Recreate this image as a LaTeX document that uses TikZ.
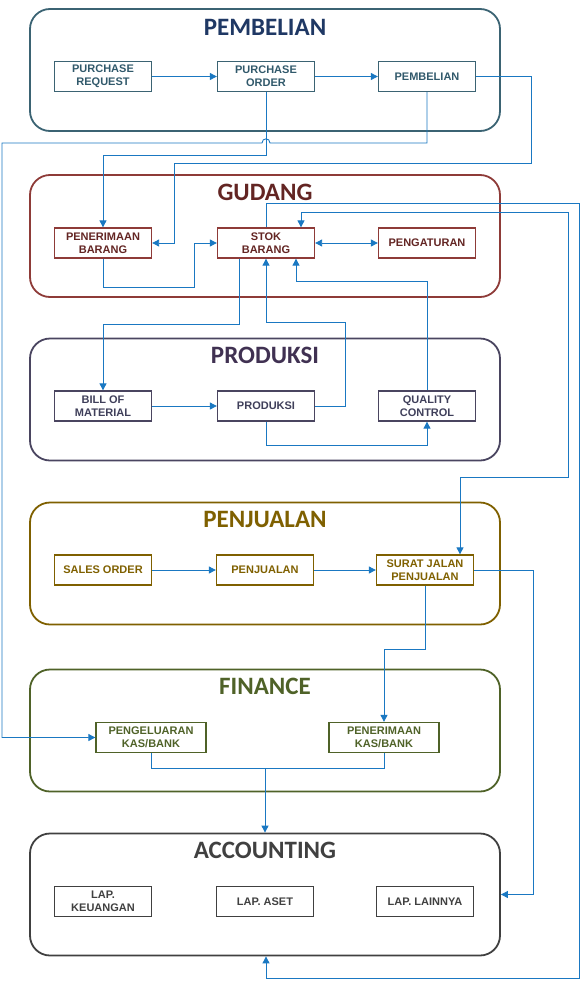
\documentclass[tikz,border=0pt]{standalone}
\usepackage{fontspec}
\setmainfont{Liberation Sans}
\newfontfamily\titlefont{Carlito}
\usetikzlibrary{arrows.meta}
\definecolor{cLine}{HTML}{1A78C2}
\definecolor{pembT}{HTML}{1F3864}
\definecolor{pembB}{HTML}{3B6373}
\definecolor{pembX}{HTML}{31596B}
\definecolor{gudT}{HTML}{632523}
\definecolor{gudB}{HTML}{8E3B38}
\definecolor{gudX}{HTML}{632523}
\definecolor{proT}{HTML}{403152}
\definecolor{proB}{HTML}{4A4560}
\definecolor{proX}{HTML}{3F3F5A}
\definecolor{penT}{HTML}{7F6000}
\definecolor{finT}{HTML}{4F6228}
\definecolor{accT}{HTML}{404040}
\begin{document}
\begin{tikzpicture}[x=1pt,y=-1pt,
  group/.style={draw, rounded corners=20pt, line width=1.8pt, minimum width=470pt, minimum height=122pt, inner sep=0pt},
  grouptitle/.style={font=\titlefont\bfseries\fontsize{25}{30}\selectfont, anchor=base, inner sep=0pt},
  box/.style={draw, line width=1.3pt, minimum width=97pt, minimum height=30pt, inner sep=1pt, align=center, font=\fontsize{11}{13}\selectfont\bfseries},
  widebox/.style={box, minimum width=110pt},
  conn/.style={draw=cLine, line width=0.9pt},
  arr/.style={conn, -{Triangle[length=7pt,width=7pt]}},
  darr/.style={conn, {Triangle[length=7pt,width=7pt]}-{Triangle[length=7pt,width=7pt]}}
]
\useasboundingbox (0,0) rectangle (582,996);
% groups
\node[group, draw=pembB] (g1) at (265,70) {};
\node[group, draw=gudB] (g2) at (265,236) {};
\node[group, draw=proB] (g3) at (265,399.5) {};
\node[group, draw=penT] (g4) at (265,563.5) {};
\node[group, draw=finT] (g5) at (265,730.5) {};
\node[group, draw=accT] (g6) at (265,894.5) {};
% titles
\node[grouptitle, text=pembT] (t1) at (265,35.5) {PEMBELIAN};
\node[grouptitle, text=gudT] (t2) at (265,200.5) {GUDANG};
\node[grouptitle, text=proT] (t3) at (265,363.5) {PRODUKSI};
\node[grouptitle, text=penT] (t4) at (265,527.5) {PENJUALAN};
\node[grouptitle, text=finT] (t5) at (265,694.5) {FINANCE};
\node[grouptitle, text=accT] (t6) at (265,858.5) {ACCOUNTING};
% boxes
\node[box, draw=pembB, text=pembX] (pr) at (103,76.5) {PURCHASE\\REQUEST};
\node[box, draw=pembB, text=pembX] (po) at (266,76.5) {PURCHASE\\ORDER};
\node[box, draw=pembB, text=pembX] (pb) at (427,76.5) {PEMBELIAN};
\node[box, draw=gudB, text=gudX] (pen) at (103,243) {PENERIMAAN\\BARANG};
\node[box, draw=gudB, text=gudX] (stok) at (266,243) {STOK\\BARANG};
\node[box, draw=gudB, text=gudX] (peng) at (427,243) {PENGATURAN};
\node[box, draw=proB, text=proX] (bom) at (103,406) {BILL OF\\MATERIAL};
\node[box, draw=proB, text=proX] (prod) at (266,406) {PRODUKSI};
\node[box, draw=proB, text=proX] (qc) at (427,406) {QUALITY\\CONTROL};
\node[box, draw=penT, text=penT] (so) at (103,570) {SALES ORDER};
\node[box, draw=penT, text=penT] (pj) at (265,570) {PENJUALAN};
\node[box, draw=penT, text=penT] (sj) at (425,570) {SURAT JALAN\\PENJUALAN};
\node[widebox, draw=finT, text=finT] (pk) at (151,737.5) {PENGELUARAN\\KAS/BANK};
\node[widebox, draw=finT, text=finT] (tk) at (384,737.5) {PENERIMAAN\\KAS/BANK};
\node[box, draw=accT, text=accT] (lk) at (103,901.5) {LAP.\\KEUANGAN};
\node[box, draw=accT, text=accT] (la) at (265,901.5) {LAP. ASET};
\node[box, draw=accT, text=accT] (ll) at (425,901.5) {LAP. LAINNYA};
% connectors: PEMBELIAN
\draw[arr] (pr.east) -- (po.west);
\draw[arr] (po.east) -- (pb.west);
\draw[arr] (po.south) |- (103,155) -- (pen.north);
\draw[arr] (pb.south) |- (270,143) .. controls (270,137.5) and (262,137.5) .. (262,143) -| (2,737.5) -- (pk.west);
\draw[arr] (pb.east) -| (531,163) -| (174,243) -- (pen.east);
% GUDANG
\draw[arr] (pen.south) |- (194,287) |- (stok.west);
\draw[darr] (stok.east) -- (peng.west);
\draw[arr] (stok.north) |- (579,203) |- (266,978) -- (g6.south -| 266,0);
\draw[darr] ([xshift=35pt]sj.north) |- (568,477) |- (301,212) -- ([xshift=35pt]stok.north);
\draw[arr] ([xshift=-27pt]stok.south) |- (103,324) -- (bom.north);
\draw[arr] (prod.east) -| (345,322) -| (stok.south);
\draw[arr] (qc.north) |- (296,281) -- ([xshift=30pt]stok.south);
% PRODUKSI
\draw[arr] (bom.east) -- (prod.west);
\draw[arr] (prod.south) |- (427,445) -- (qc.south);
% PENJUALAN
\draw[arr] (so.east) -- (pj.west);
\draw[arr] (pj.east) -- (sj.west);
\draw[arr] (sj.east) -| (533,894.5) -- (g6.east);
\draw[arr] (sj.south) |- (384,649) -- (tk.north);
% FINANCE
\draw[conn] (pk.south) |- (384,768) -- (tk.south);
\coordinate (fj) at (265,768);
\draw[arr] (fj) -- (g6.north);
\end{tikzpicture}
\end{document}
